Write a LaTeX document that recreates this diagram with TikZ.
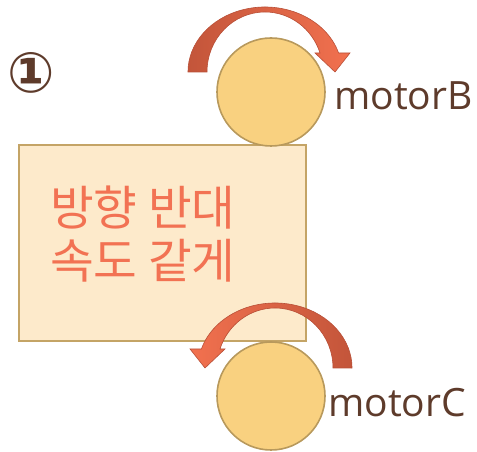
\documentclass[tikz,border=0pt]{standalone}
\usepackage{fontspec}
\setmainfont{Open Sans}
\newfontfamily\krfont{Noto Sans CJK KR}
\newfontfamily\symfont{DejaVu Sans}
\definecolor{wheelfill}{HTML}{F9D180}
\definecolor{wheeledge}{HTML}{B8995C}
\definecolor{boxfill}{HTML}{FDEACB}
\definecolor{boxedge}{HTML}{C4A466}
\definecolor{arrdark}{HTML}{C3553A}
\definecolor{arrlight}{HTML}{F2714F}
\definecolor{arredge}{HTML}{B84F37}
\definecolor{labelbrown}{HTML}{5E3B2B}
\definecolor{korcolor}{HTML}{F27253}
\tikzset{
  wheel/.style={circle, draw=wheeledge, line width=1.6pt, fill=wheelfill, minimum size=108pt, inner sep=0pt},
  robotbox/.style={draw=boxedge, line width=1.8pt, fill=boxfill},
  turnarrow/.style={draw=arredge, line width=0.6pt, shading=axis, shading angle=90},
  motorlabel/.style={text=labelbrown, font=\fontsize{39}{44}\selectfont, inner sep=0pt, anchor=base west},
}
\begin{document}
\begin{tikzpicture}[x=1pt,y=1pt]
\useasboundingbox (0,0) rectangle (477,452);
% robot body
\node[robotbox, minimum width=287pt, minimum height=196pt, inner sep=0pt, anchor=south west] (body) at (18,110) {};
% wheels
\node[wheel] (wheelB) at (271,360) {};
\node[wheel] (wheelC) at (271,56) {};
% labels
\node[motorlabel] (labB) at (334,342) {motorB};
\node[motorlabel] (labC) at (328,35) {motorC};
\node[text=labelbrown, font=\symfont\bfseries\fontsize{56}{60}\selectfont, inner sep=0pt] (num) at (31,379) {①};
\node[text=korcolor, font=\krfont\fontsize{47.5}{53}\selectfont, align=left, anchor=west, inner sep=0pt] (txt) at (50,218) {방향 반대\\속도 같게};
% top arrow (clockwise)
\path[turnarrow, left color=arrdark, right color=arrlight]
  (207,380) arc[start angle=180, end angle=18.5, x radius=58, y radius=60]
  -- (315,399) -- (335,380) -- (350,399) -- (338.6,399)
  arc[start angle=17, end angle=180, x radius=77, y radius=65] -- cycle;
% bottom arrow (counter-clockwise)
\path[turnarrow, left color=arrlight, right color=arrdark]
  (333,84) arc[start angle=0, end angle=161.5, x radius=58, y radius=60]
  -- (225,103) -- (205,84) -- (190,103) -- (201.4,103)
  arc[start angle=163, end angle=0, x radius=77, y radius=65] -- cycle;
\end{tikzpicture}
\end{document}
